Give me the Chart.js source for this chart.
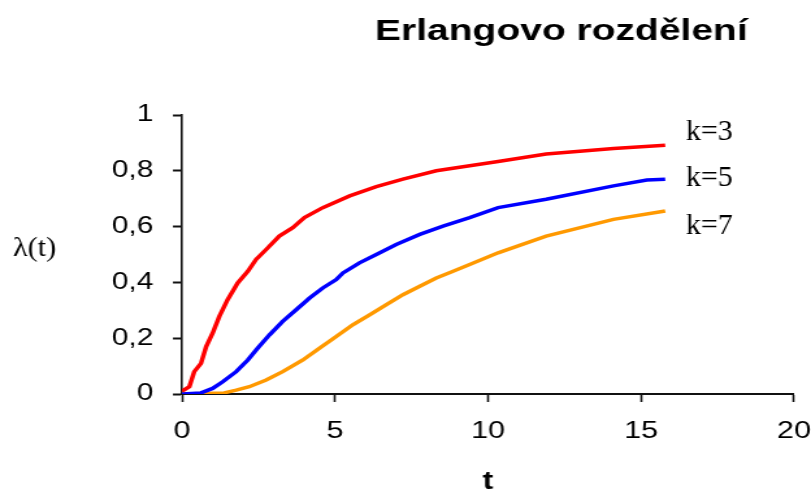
<!DOCTYPE html>
<html>
<head>
<meta charset="utf-8">
<script src="https://cdn.jsdelivr.net/npm/chart.js@4.4.1/dist/chart.umd.min.js"></script>
<style>
  html, body { margin: 0; padding: 0; background: #fff; overflow: hidden; }
  #wrap { width: 811px; height: 490px; overflow: hidden; }
  #c { display: block; transform-origin: 0 0; }
</style>
</head>
<body>
<div id="wrap"><canvas id="c" width="640" height="490"></canvas></div>
<script>
// ---- data ----
const tK3 = [0, 0.24, 0.40, 0.62, 0.79, 1.0, 1.22, 1.49, 1.82, 2.15, 2.42, 2.75, 3.18, 3.62, 4.0, 4.6, 5.48, 6.35, 7.22, 8.31, 9.4, 10.33, 11.9, 14.1, 15.79];
const lamK3 = [0.01, 0.026, 0.08, 0.11, 0.17, 0.218, 0.278, 0.338, 0.398, 0.44, 0.482, 0.518, 0.566, 0.596, 0.632, 0.668, 0.71, 0.743, 0.77, 0.80, 0.818, 0.833, 0.86, 0.88, 0.892];

const tK5 = [0, 0.62, 1.0, 1.33, 1.77, 2.15, 2.47, 2.86, 3.29, 3.73, 4.17, 4.6, 5.04, 5.26, 5.8, 6.35, 7.0, 7.77, 8.53, 9.4, 10.33, 11.9, 14.1, 15.19, 15.79];
const lamK5 = [0, 0.004, 0.02, 0.044, 0.08, 0.122, 0.164, 0.212, 0.26, 0.302, 0.344, 0.38, 0.41, 0.434, 0.47, 0.5, 0.536, 0.572, 0.602, 0.632, 0.668, 0.698, 0.746, 0.767, 0.77];

const tK7 = [0, 1.38, 1.77, 2.2, 2.75, 3.29, 3.95, 4.49, 5.04, 5.58, 6.13, 6.68, 7.22, 7.77, 8.31, 8.86, 9.4, 10.33, 11.9, 14.1, 15.79];
const lamK7 = [0, 0.004, 0.014, 0.026, 0.05, 0.08, 0.122, 0.164, 0.206, 0.248, 0.284, 0.32, 0.356, 0.386, 0.416, 0.44, 0.464, 0.506, 0.566, 0.626, 0.656];

const seriesNames = ['k=3', 'k=5', 'k=7'];
const labelT = 16.47;                  // t position of the series labels
const labelLam = [0.94, 0.775, 0.6];   // λ position of the series labels
const titleText = 'Erlangovo rozdělení';
const xTitle = 't';
const yTitle = 'λ(t)';

// ---- build ----
const STRETCH = 811 / 624; // the whole picture is horizontally stretched
const CANVAS_W = 640;
document.getElementById('c').style.transform = 'scaleX(' + STRETCH + ')';

const toXY = (ts, vs) => ts.map((t, i) => ({ x: t, y: vs[i] }));
const colors = ['#ff0000', '#0000ff', '#ff9900'];
const seriesData = [toXY(tK3, lamK3), toXY(tK5, lamK5), toXY(tK7, lamK7)];

const sans = "'Liberation Sans', Arial, sans-serif";
const serif = "'Liberation Serif', 'Times New Roman', serif";

function drawScaled(ctx, text, x, y, fx) {
  ctx.save();
  ctx.translate(x, y);
  ctx.scale(fx, 1);
  ctx.fillText(text, 0, 0);
  ctx.restore();
}

const textPlugin = {
  id: 'texts',
  afterDraw(chart) {
    const ctx = chart.ctx;
    const xs = chart.scales.x, ys = chart.scales.y, ca = chart.chartArea;
    ctx.save();
    ctx.fillStyle = '#000';
    // title
    ctx.font = 'bold 30px ' + sans;
    ctx.textAlign = 'left';
    ctx.textBaseline = 'alphabetic';
    ctx.fillText(titleText, 375 / STRETCH, 40);
    // x title
    ctx.font = 'bold 25px ' + sans;
    ctx.textAlign = 'center';
    ctx.fillText(xTitle, (ca.left + ca.right) / 2, 489);
    // y title
    ctx.font = '27px ' + serif;
    ctx.textAlign = 'left';
    ctx.textBaseline = 'middle';
    drawScaled(ctx, yTitle, 13 / STRETCH, 249, 1.12 / STRETCH);
    // series labels (not stretched)
    ctx.font = '30px ' + serif;
    seriesNames.forEach((n, i) => {
      drawScaled(ctx, n, xs.getPixelForValue(labelT), ys.getPixelForValue(labelLam[i]), 1 / STRETCH);
    });
    ctx.restore();
  }
};

new Chart(document.getElementById('c'), {
  type: 'line',
  data: {
    datasets: seriesData.map((d, i) => ({
      label: seriesNames[i],
      data: d,
      borderColor: colors[i],
      backgroundColor: colors[i],
      borderWidth: 3.5,
      pointRadius: 0,
      tension: 0,
      fill: false
    }))
  },
  options: {
    responsive: false,
    animation: false,
    devicePixelRatio: 1,
    layout: { padding: { top: 115, right: CANVAS_W - 794 / STRETCH, left: 0, bottom: 0 } },
    plugins: { legend: { display: false }, title: { display: false }, tooltip: { enabled: false } },
    scales: {
      x: {
        type: 'linear', min: 0, max: 20,
        afterFit: s => { s.height = 96; s.paddingLeft = 0; s.paddingRight = 0; },
        border: { color: '#111', width: 2 },
        grid: { drawOnChartArea: false, drawTicks: true, tickLength: 8, tickColor: '#111', tickWidth: 1.6 },
        ticks: { stepSize: 5, color: '#000', font: { family: sans, size: 23.5 }, padding: 15, maxRotation: 0 }
      },
      y: {
        type: 'linear', min: 0, max: 1,
        afterFit: s => { s.width = 182 / STRETCH; s.paddingTop = 0; s.paddingBottom = 0; },
        border: { color: '#111', width: 1.6 },
        grid: { drawOnChartArea: false, drawTicks: true, tickLength: 7, tickColor: '#111', tickWidth: 2 },
        ticks: { stepSize: 0.2, color: '#000', font: { family: sans, size: 23 }, padding: 15,
                 callback: v => String(Math.round(v * 10) / 10).replace('.', ',') }
      }
    }
  },
  plugins: [textPlugin]
});
</script>
</body>
</html>
